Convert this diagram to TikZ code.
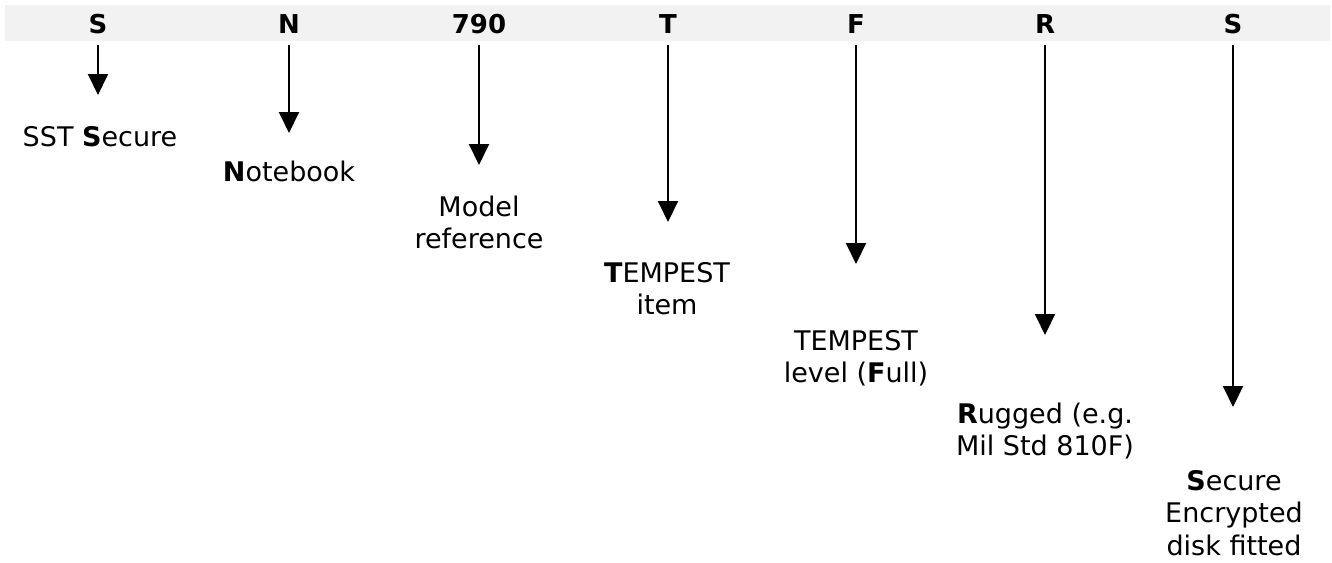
\documentclass[tikz,border=0pt]{standalone}
\usepackage{fontspec}
\setmainfont{DejaVu Sans}
\usetikzlibrary{arrows.meta}
\definecolor{barfill}{RGB}{242,242,242}
\tikzset{
  code/.style={anchor=base, inner sep=0pt, outer sep=0pt, text depth=0pt,
    font=\fontsize{26}{31}\selectfont\bfseries},
  desc/.style={anchor=north, inner sep=0pt, outer sep=0pt, align=center,
    font=\fontsize{27}{32.5}\selectfont},
  arr/.style={line width=2pt, shorten <=11.5pt, -{Triangle[length=21pt,width=20pt]}},
}
\begin{document}
\begin{tikzpicture}[x=1pt,y=-1pt]
\useasboundingbox (0,0) rectangle (1332,562);
\fill[barfill] (5,5) rectangle (1330,41);
% code letters
\node[code] (l1) at (98,33.5) {S};
\node[code] (l2) at (289,33.5) {N};
\node[code] (l3) at (479,33.5) {790};
\node[code] (l4) at (668,33.5) {T};
\node[code] (l5) at (856,33.5) {F};
\node[code] (l6) at (1045,33.5) {R};
\node[code] (l7) at (1233,33.5) {S};
% arrow tips
\coordinate (t1) at (98,95);
\coordinate (t2) at (289,133);
\coordinate (t3) at (479,165);
\coordinate (t4) at (668,222);
\coordinate (t5) at (856,264);
\coordinate (t6) at (1045,335);
\coordinate (t7) at (1233,407);
\foreach \i in {1,...,7} {\draw[arr] (l\i.south) -- (t\i);}
% descriptions
\node[desc] (d1) at (100,123.25) {\strut SST \textbf{S}ecure};
\node[desc] (d2) at (289,158.25) {\strut\textbf{N}otebook};
\node[desc] (d3) at (479,193.25) {\strut Model\\reference};
\node[desc] (d4) at (667,259.25) {\strut\textbf{T}EMPEST\\item};
\node[desc] (d5) at (856,327.25) {\strut TEMPEST\\level (\textbf{F}ull)};
\node[desc] (d6) at (1045,400.25) {\strut\textbf{R}ugged (e.g.\\Mil Std 810F)};
\node[desc] (d7) at (1234,467.25) {\strut\textbf{S}ecure\\Encrypted\\disk fitted};
\end{tikzpicture}
\end{document}
